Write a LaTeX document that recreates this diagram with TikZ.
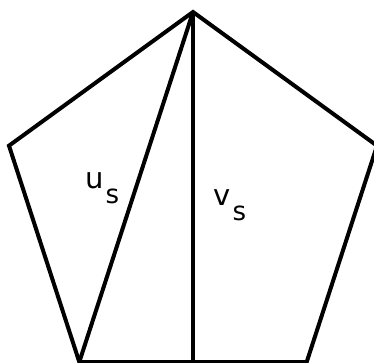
\documentclass[tikz,border=0pt]{standalone}
\usepackage{fontspec}
\newfontfamily\labfont{DejaVu Sans}
\tikzset{
  edge/.style={line width=4pt, line join=miter, line cap=butt},
  lab/.style={anchor=base west, inner sep=0pt, font=\labfont\fontsize{29}{29}\selectfont},
  sub/.style={anchor=base west, inner sep=0pt, font=\labfont\fontsize{26}{26}\selectfont}
}
\begin{document}
\begin{tikzpicture}[x=1pt,y=-1pt]
\useasboundingbox (0,0) rectangle (374,363);
\clip (0,0) rectangle (374,363);
\coordinate (T) at (193,12);
\coordinate (L) at (9,145.7);
\coordinate (R) at (377,145.7);
\coordinate (BL) at (79.3,362);
\coordinate (BR) at (306.7,362);
\coordinate (BM) at (193,362);
\draw[edge] (T) -- (R) -- (BR) -- (BL) -- (L) -- cycle;
\draw[edge] (T) -- (BL);
\draw[edge] (T) -- (BM);
\node[lab] (u) at (85.5,188.5) {u};
\node[sub] (us) at (105.5,203.5) {s};
\node[lab] (v) at (213,205.5) {v};
\node[sub] (vs) at (232.5,220.5) {s};
\end{tikzpicture}
\end{document}
